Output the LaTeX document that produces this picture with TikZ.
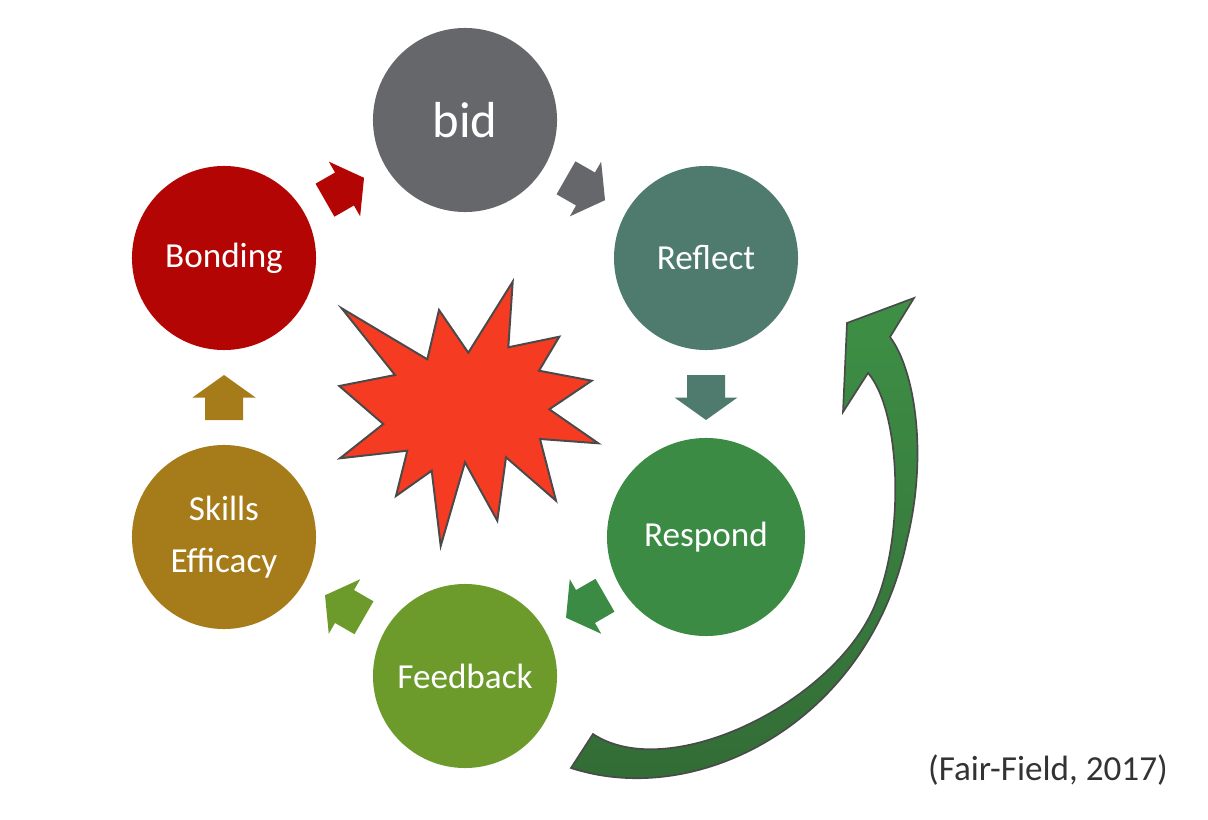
\documentclass[tikz,border=0pt]{standalone}
\usepackage{fontspec}
\setmainfont{Carlito}
\usetikzlibrary{calc}
\tikzset{every text node part/.style={align=center}}

\definecolor{bidgray}{HTML}{66676B}
\definecolor{reflectteal}{HTML}{4F7B6F}
\definecolor{respondgreen}{HTML}{3B8B44}
\definecolor{feedbackolive}{HTML}{6C9B2B}
\definecolor{skillsgold}{HTML}{A67C1A}
\definecolor{bondingred}{HTML}{B40505}
\definecolor{burstred}{HTML}{F53B22}
\definecolor{edgegray}{HTML}{4A4A4A}
\definecolor{loopdark}{HTML}{326A35}
\definecolor{looplight}{HTML}{3E9046}
\definecolor{captiongray}{HTML}{333333}

\tikzset{
	stage/.style={circle, inner sep=0pt, minimum size=4.6cm, text=white,
		font=\fontsize{25}{37}\selectfont},
	pics/stepper/.style={code={
		\fill[#1] (-22.5,-19) -- (0,-19) -- (0,-31.5) -- (22.5,0)
		          -- (0,31.5) -- (0,19) -- (-22.5,19) -- cycle;
	}}
}

% block arrow half way between two stages
\newcommand\linkarrow[3]{%
	\path let \p1=($(#2)-(#1)$), \n1={atan2(\y1,\x1)} in
		($(#1)!0.5!(#2)$) pic[rotate=\n1] {stepper=#3};
}

\begin{document}
\begin{tikzpicture}[x=0.025cm, y=-0.025cm]

\useasboundingbox (0,0) rectangle (1208,820);

% Stages
\node[stage, fill=bidgray, font=\fontsize{36}{40}\selectfont] (bid) at (465,120) {bid};
\node[stage, fill=reflectteal] (reflect) at (706,258) {Reflect};
\node[stage, fill=respondgreen, minimum size=4.95cm] (respond) at (706,537) {Respond};
\node[stage, fill=feedbackolive] (feedback) at (465,676) {Feedback};
\node[stage, fill=skillsgold] (skills) at (224,537) {Skills\\Efficacy};
\node[stage, fill=bondingred] (bonding) at (224,258) {Bonding};

% Block arrows
\linkarrow{bonding}{bid}{bondingred}
\linkarrow{bid}{reflect}{bidgray}
\linkarrow{reflect}{respond}{reflectteal}
\linkarrow{respond}{feedback}{respondgreen}
\linkarrow{feedback}{skills}{feedbackolive}
\linkarrow{skills}{bonding}{skillsgold}

% Burst
\draw[fill=burstred, draw=edgegray, line width=1.4pt, line join=miter]
	(341.7,308.3) -- (427.3,359.3) -- (439,310) -- (468.3,352.7)
	-- (512.7,281.7) -- (508.3,347.3) -- (559.3,336.7) -- (539,370.7)
	-- (591.7,380.7) -- (549.3,409.3) -- (598.3,443.3) -- (540,439)
	-- (556,500.7) -- (506,457.3) -- (497.3,520.7) -- (465,462.3)
	-- (440.7,546) -- (431.7,470.7) -- (396,496) -- (407.3,450.7)
	-- (340,458.3) -- (383.3,424) -- (339.3,386) -- (395,375) -- cycle;

% Loop arrow
\draw[top color=looplight, bottom color=loopdark, draw=edgegray, line width=1.2pt, line join=miter]
	(593,734) .. controls (670,785) and (840,700) .. (877,600)
	          .. controls (905,530) and (900,410) .. (868,373)
	-- (843,412) -- (847,323) -- (914,298) -- (890,337)
	.. controls (915,370) and (928,455) .. (907,540)
	.. controls (870,720) and (700,810) .. (571,768)
	-- cycle;

% Source
\node[text=captiongray, font=\fontsize{25}{30}\selectfont] (source) at (1048,770) {(Fair-Field, 2017)};

\end{tikzpicture}
\end{document}
